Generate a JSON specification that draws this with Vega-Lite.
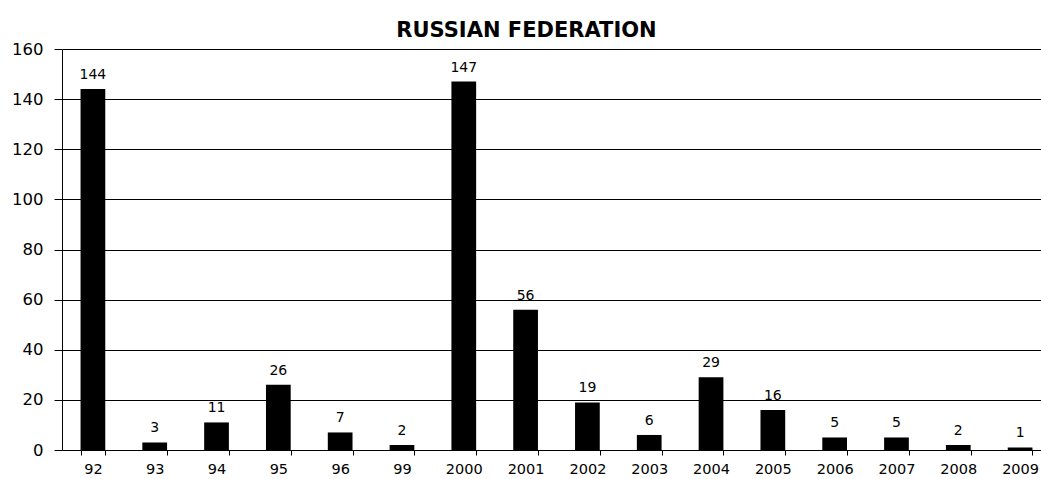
{
  "$schema": "https://vega.github.io/schema/vega-lite/v6.json",
  "width": 979,
  "height": 401,
  "autosize": {"type": "none"},
  "padding": {"left": 62, "top": 49, "right": 0, "bottom": 29},
  "background": "white",
  "title": {
    "text": "RUSSIAN FEDERATION",
    "font": "DejaVu Sans",
    "fontSize": 21,
    "fontWeight": "bold",
    "color": "black",
    "anchor": "middle",
    "baseline": "alphabetic",
    "offset": 12,
    "dy": 29,
    "dx": -25
  },
  "data": {
    "values": [
      {"year": "92", "value": 144},
      {"year": "93", "value": 3},
      {"year": "94", "value": 11},
      {"year": "95", "value": 26},
      {"year": "96", "value": 7},
      {"year": "99", "value": 2},
      {"year": "2000", "value": 147},
      {"year": "2001", "value": 56},
      {"year": "2002", "value": 19},
      {"year": "2003", "value": 6},
      {"year": "2004", "value": 29},
      {"year": "2005", "value": 16},
      {"year": "2006", "value": 5},
      {"year": "2007", "value": 5},
      {"year": "2008", "value": 2},
      {"year": "2009", "value": 1}
    ]
  },
  "encoding": {
    "x": {
      "field": "year",
      "type": "nominal",
      "sort": null,
      "scale": {"range": [0, 989], "paddingInner": 0.6, "paddingOuter": 0.3},
      "axis": {
        "title": null,
        "labelAngle": 0,
        "tickBand": "extent",
        "tickSize": 5,
        "tickColor": "black",
        "domainColor": "black",
        "labelPadding": 7,
        "labelFont": "DejaVu Sans",
        "labelFontSize": 14.5,
        "labelColor": "black",
        "labelBound": false,
        "grid": false
      }
    },
    "y": {
      "field": "value",
      "type": "quantitative",
      "scale": {"domain": [0, 160], "nice": false},
      "axis": {
        "title": null,
        "values": [0, 20, 40, 60, 80, 100, 120, 140, 160],
        "grid": true,
        "gridColor": "black",
        "gridOpacity": 1,
        "gridWidth": 1,
        "tickSize": 8,
        "tickColor": "black",
        "domainColor": "black",
        "labelPadding": 11,
        "labelFont": "DejaVu Sans",
        "labelFontSize": 16.5,
        "labelColor": "black"
      }
    }
  },
  "layer": [
    {"mark": {"type": "bar", "color": "black"}},
    {
      "mark": {
        "type": "text",
        "dy": -10,
        "baseline": "alphabetic",
        "font": "DejaVu Sans",
        "fontSize": 14,
        "color": "black"
      },
      "encoding": {"text": {"field": "value", "type": "quantitative"}}
    }
  ],
  "config": {"view": {"stroke": null}}
}
